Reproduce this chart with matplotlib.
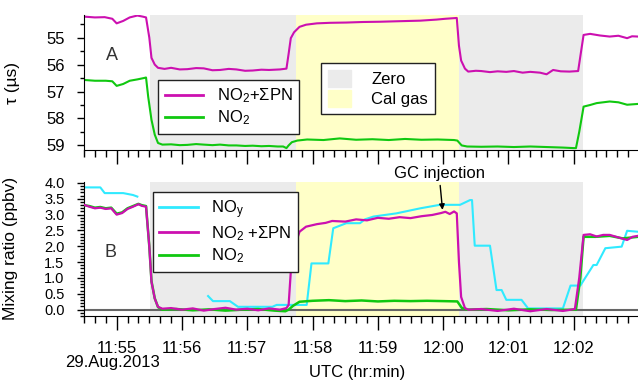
import numpy as np
import matplotlib
matplotlib.use("Agg")
import matplotlib.pyplot as plt
from matplotlib.ticker import MultipleLocator, FuncFormatter
from matplotlib.patches import Patch
from matplotlib.lines import Line2D

plt.rcParams['font.family'] = ['Liberation Sans', 'DejaVu Sans']
plt.rcParams['mathtext.fontset'] = 'custom'
plt.rcParams['mathtext.rm'] = 'Liberation Sans'
plt.rcParams['mathtext.default'] = 'regular'

# ---- data (time = seconds after 11:54:00 UTC, 29 Aug 2013) ----
# panel A : ring-down time tau (us)
t_tau_sum = [30, 40, 49, 56, 60, 66, 72, 79, 84, 87, 90, 92, 95, 98, 104, 110, 118, 125,
             133, 140, 148, 155, 163, 170, 178, 185, 193, 200, 210, 216, 218, 220, 223,
             228, 234, 244, 256, 271, 286, 302, 320, 339, 354, 362, 369, 372.5, 374.5,
             376.5, 380, 383, 390, 395, 403, 410, 418, 425, 433, 440, 449, 455, 461, 468,
             476, 484, 486, 489, 495, 504, 513, 521, 529, 533.5, 539]
tau_sum = [54.22, 54.25, 54.24, 54.30, 54.47, 54.38, 54.25, 54.18, 54.22, 54.25, 55.00,
           55.75, 56.00, 56.12, 56.16, 56.12, 56.18, 56.17, 56.13, 56.14, 56.21, 56.20,
           56.16, 56.18, 56.23, 56.22, 56.19, 56.20, 56.18, 56.15, 55.60, 55.02, 54.80,
           54.60, 54.52, 54.47, 54.45, 54.44, 54.42, 54.41, 54.39, 54.37, 54.33, 54.30,
           54.28, 54.27, 55.30, 55.85, 56.15, 56.26, 56.23, 56.24, 56.28, 56.25, 56.27,
           56.24, 56.30, 56.27, 56.30, 56.36, 56.20, 56.25, 56.26, 56.24, 55.70, 54.90,
           54.86, 54.92, 54.96, 54.93, 55.02, 54.95, 54.96]

t_tau_no2 = [30, 40, 50, 56, 60, 66, 72, 79, 85, 87, 89, 92, 95, 98, 102, 110, 118, 125,
             133, 140, 148, 155, 163, 170, 178, 185, 193, 200, 208, 213, 216, 218, 221,
             226, 235, 250, 265, 280, 295, 310, 325, 340, 355, 370, 373, 377, 382, 395,
             410, 425, 440, 455, 470, 480, 482, 485, 488, 489, 495, 501, 513, 521, 529, 539]
tau_no2 = [56.57, 56.60, 56.60, 56.62, 56.79, 56.72, 56.60, 56.55, 56.50, 56.48, 57.20,
           58.05, 58.60, 58.91, 58.97, 58.96, 58.99, 58.98, 58.95, 58.97, 58.99, 58.97,
           59.00, 59.00, 59.02, 59.01, 59.03, 59.02, 59.04, 59.04, 59.10, 59.00, 58.88,
           58.82, 58.78, 58.80, 58.74, 58.79, 58.77, 58.80, 58.76, 58.79, 58.78, 58.80,
           58.82, 59.00, 59.04, 59.05, 59.04, 59.06, 59.04, 59.06, 59.08, 59.10, 59.10,
           58.50, 57.80, 57.56, 57.50, 57.43, 57.37, 57.40, 57.49, 57.46]

# panel B : mixing ratios (ppbv)
t_mr_sum = [30, 35, 40, 45, 50, 55, 60, 65, 70, 75, 80, 83, 87, 90, 92, 95, 98, 102, 110,
            120, 130, 140, 150, 160, 170, 180, 190, 200, 210, 216, 218, 220, 222, 228,
            234, 244, 252, 258, 270, 280, 290, 300, 310, 320, 330, 340, 350, 358, 362,
            366, 370, 372.5, 374.5, 376.5, 380, 383, 395, 410, 425, 440, 455, 470, 481,
            485, 489, 495, 501, 507, 513, 521, 529, 534, 539]
mr_sum = [3.31, 3.25, 3.20, 3.22, 3.18, 3.20, 3.00, 3.05, 3.18, 3.25, 3.33, 3.28, 3.25,
          2.00, 0.88, 0.35, 0.09, 0.03, 0.05, 0.00, 0.04, -0.03, 0.02, 0.06, 0.00, 0.03,
          -0.02, 0.04, 0.00, 0.05, 0.15, 1.20, 1.83, 2.46, 2.62, 2.70, 2.74, 2.80, 2.78,
          2.85, 2.82, 2.90, 2.87, 2.92, 2.89, 2.95, 2.99, 3.05, 3.09, 3.02, 3.10, 3.04,
          1.50, 0.40, 0.05, 0.00, 0.02, -0.04, 0.03, -0.05, 0.02, -0.04, 0.02, 1.00, 2.36,
          2.38, 2.31, 2.36, 2.36, 2.28, 2.20, 2.30, 2.33]

t_mr_no2 = [30, 35, 40, 45, 50, 55, 60, 65, 70, 75, 80, 83, 87, 90, 92, 95, 98, 102, 115,
            130, 145, 160, 175, 190, 205, 215, 218, 222, 228, 240, 255, 270, 285, 300,
            315, 330, 345, 360, 373, 377, 382, 400, 420, 440, 460, 482, 486, 489, 500,
            513, 525, 539]
mr_no2 = [3.30, 3.27, 3.22, 3.24, 3.20, 3.22, 3.03, 3.07, 3.20, 3.27, 3.34, 3.30, 3.27,
          2.00, 0.90, 0.36, 0.08, 0.00, 0.02, -0.02, 0.01, -0.03, 0.00, 0.02, -0.03, -0.05,
          0.00, 0.12, 0.25, 0.28, 0.30, 0.27, 0.29, 0.26, 0.28, 0.27, 0.28, 0.27, 0.26,
          0.06, 0.00, 0.02, -0.02, 0.01, -0.01, 0.00, 1.00, 2.30, 2.30, 2.33, 2.25, 2.30]

t_noy = [30, 45, 49, 66, 75, 79, 80, 144, 148.5, 164, 171.5, 203, 207, 234.6, 239, 254.5,
         259, 271, 283.6, 288, 296, 317, 339, 357, 375.5, 384.7, 386.5, 389, 403, 409,
         413.7, 418, 432, 438, 470, 477, 486, 498, 501, 509, 524, 529, 539]
noy = [3.86, 3.86, 3.68, 3.68, 3.62, 3.57, np.nan, 0.43, 0.27, 0.27, 0.09, 0.09, 0.15,
       0.15, 1.46, 1.46, 2.57, 2.73, 2.73, 2.85, 2.94, 3.04, 3.20, 3.31, 3.31, 3.46, 3.46,
       2.02, 2.02, 0.62, 0.62, 0.31, 0.31, 0.04, 0.04, 0.76, 0.76, 1.41, 1.41, 1.94, 1.99,
       2.49, 2.46]

zero_periods = [(90.6, 224.8), (374.3, 488.5)]
cal_period = (224.8, 374.3)
gc_injection = (359.4, 3.15)

c_sum = '#cc10b0'
c_no2 = '#10c810'
c_noy = '#30eaff'
c_zero = '#ebebeb'
c_cal = '#ffffc8'

W, H = 638, 383
fig = plt.figure(figsize=(W / 100, H / 100), dpi=100)
ax1 = fig.add_axes([84 / W, 1 - 150 / H, 554 / W, 135 / H])
ax2 = fig.add_axes([84 / W, 1 - 316 / H, 554 / W, 134.3 / H])


def hhmm(t, pos):
    m = int(round(t / 60))
    return '%02d:%02d' % (11 + (54 + m) // 60, (54 + m) % 60)


for ax in (ax1, ax2):
    for a, b in zero_periods:
        ax.axvspan(a, b, color=c_zero, lw=0, zorder=0)
    ax.axvspan(*cal_period, color=c_cal, lw=0, zorder=0)
    ax.set_xlim(30, 539)
    ax.spines['top'].set_visible(False)
    ax.spines['right'].set_visible(False)
    ax.xaxis.set_major_locator(MultipleLocator(60))
    ax.xaxis.set_minor_locator(MultipleLocator(10))
    ax.tick_params(axis='x', which='major', direction='out', length=10, width=1)
    ax.tick_params(axis='x', which='minor', direction='out', length=5, width=1)
    ax.tick_params(axis='y', which='major', direction='out', length=5, width=1, pad=9)
    ax.tick_params(axis='y', which='minor', direction='out', length=3, width=1)

# ---- panel A ----
ax1.plot(t_tau_sum, tau_sum, color=c_sum, lw=1.5)
ax1.plot(t_tau_no2, tau_no2, color=c_no2, lw=1.5)
ax1.set_ylim(59.17, 54.16)
ax1.yaxis.set_major_locator(MultipleLocator(1))
ax1.yaxis.set_minor_locator(MultipleLocator(0.5))
ax1.tick_params(axis='y', labelsize=12)
ax1.tick_params(axis='x', labelbottom=False)
ax1.set_ylabel('τ (µs)', fontsize=12.5)
ax1.yaxis.set_label_coords(-0.115, 0.5)
ax1.text(0.05, 0.70, 'A', transform=ax1.transAxes, fontsize=13, color='#333333',
         ha='center', va='center')

leg1 = ax1.legend([Line2D([], [], color=c_sum, lw=2), Line2D([], [], color=c_no2, lw=2)],
                  [r'NO$_2$+$\Sigma$PN', r'NO$_2$'],
                  loc='lower left', bbox_to_anchor=(0.134, 0.118), fontsize=12,
                  fancybox=False, edgecolor='#222222', framealpha=1,
                  handlelength=2.3, borderpad=0.4, labelspacing=0.2, borderaxespad=0)
leg1.get_frame().set_linewidth(1)
ax1.add_artist(leg1)
leg2 = ax1.legend([Patch(color=c_zero), Patch(color=c_cal)], ['Zero', 'Cal gas'],
                  loc='upper left', bbox_to_anchor=(0.428, 0.644), fontsize=12,
                  fancybox=False, edgecolor='#222222', framealpha=1,
                  handlelength=1.4, handleheight=1.2, handletextpad=1.2, borderpad=0.4,
                  borderaxespad=0, labelspacing=0.2)
leg2.get_frame().set_linewidth(1)

# ---- panel B ----
ax2.axhline(0, color='#666666', lw=1.5, zorder=1)
ax2.plot(t_noy, noy, color=c_noy, lw=1.5, zorder=2)
ax2.plot(t_mr_no2, mr_no2, color=c_no2, lw=1.8, zorder=3)
ax2.plot(t_mr_sum, mr_sum, color=c_sum, lw=1.6, zorder=4)
ax2.set_ylim(-0.2, 4.04)
ax2.yaxis.set_major_locator(MultipleLocator(0.5))
ax2.yaxis.set_minor_locator(MultipleLocator(0.1))
ax2.yaxis.set_major_formatter(FuncFormatter(lambda v, p: '%.1f' % v))
ax2.xaxis.set_major_formatter(FuncFormatter(hhmm))
ax2.tick_params(axis='y', labelsize=10.5)
ax2.tick_params(axis='x', labelsize=12, pad=8)
ax2.set_ylabel('Mixing ratio (ppbv)', fontsize=12.5)
ax2.yaxis.set_label_coords(-0.119, 0.5)
ax2.text(0.047, 0.47, 'B', transform=ax2.transAxes, fontsize=13, color='#333333',
         ha='center', va='center')

ax2.legend([Line2D([], [], color=c_noy, lw=2), Line2D([], [], color=c_sum, lw=2),
            Line2D([], [], color=c_no2, lw=2)],
           [r'NO$_y$', r'NO$_2$ +$\Sigma$PN', r'NO$_2$'],
           loc='upper left', bbox_to_anchor=(0.124, 0.9255), fontsize=12,
           fancybox=False, edgecolor='#222222', framealpha=1,
           handlelength=2.3, borderpad=0.4, labelspacing=0.2,
           borderaxespad=0).get_frame().set_linewidth(1)

ax2.annotate('GC injection', xy=gc_injection, xytext=(-2.5, 26), textcoords='offset points',
             ha='center', va='center', fontsize=12, annotation_clip=False,
             arrowprops=dict(arrowstyle='-|>', color='black', lw=1, mutation_scale=8,
                             shrinkA=1, shrinkB=0))

fig.text(113 / W, 1 - 362 / H, '29.Aug.2013', ha='center', va='center', fontsize=12)
fig.text(357 / W, 1 - 373 / H, 'UTC (hr:min)', ha='center', va='center', fontsize=12)

fig.savefig('out.png', dpi=100)
